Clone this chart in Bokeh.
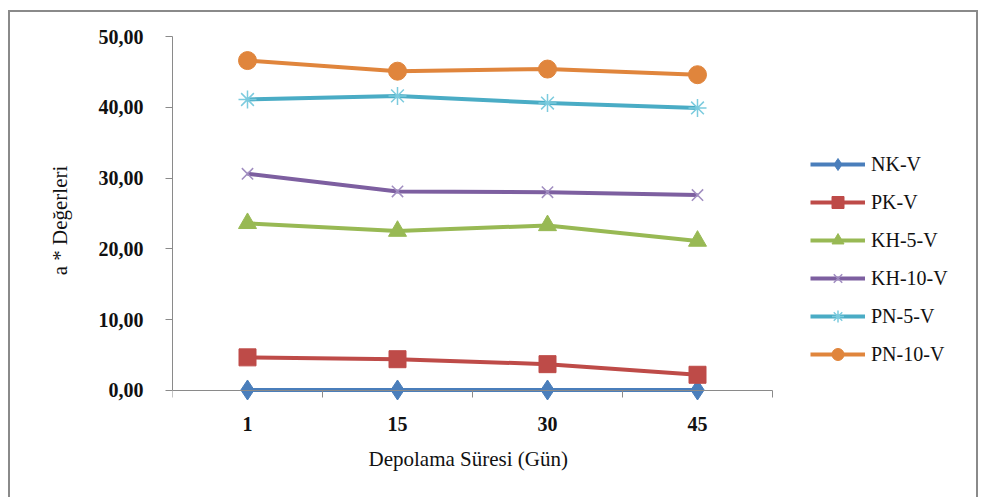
import numpy as np
from bokeh.plotting import figure
from bokeh.models import (Range1d, FixedTicker, Legend, LegendItem, ColumnDataSource, Title, LinearAxis)
from bokeh.embed import file_html
from bokeh.resources import INLINE

days = ["1", "15", "30", "45"]
series_names = ["NK-V", "PK-V", "KH-5-V", "KH-10-V", "PN-5-V", "PN-10-V"]
nk_v = [0.05, 0.05, 0.05, 0.05]
pk_v = [4.66, 4.40, 3.70, 2.20]
kh5_v = [23.6, 22.5, 23.3, 21.1]
kh10_v = [30.6, 28.1, 28.0, 27.6]
pn5_v = [41.1, 41.6, 40.6, 39.9]
pn10_v = [46.6, 45.1, 45.4, 44.6]
y_ticks = [0, 10, 20, 30, 40, 50]
y_tick_labels = ["0,00", "10,00", "20,00", "30,00", "40,00", "50,00"]

values = [nk_v, pk_v, kh5_v, kh10_v, pn5_v, pn10_v]
line_colors = ["#4A7EBB", "#BE4B48", "#98B954", "#7D5FA0", "#4AACC5", "#E0853C"]
marker_colors = ["#4A7EBB", "#BE4B48", "#98B954", "#A08DC0", "#7CCBDE", "#E0853C"]
markers = ["diamond", "square", "triangle", "x", "asterisk", "circle"]
sizes = [20, 17, 18, 16, 18, 18]

FONT = "Liberation Serif"
n = len(days)
# frame spans 800px; categories occupy 600px of it (150 px per category)
x_end = n * 800 / 600
y_pad = 2.0  # room below zero so markers at 0 are not clipped

p = figure(width=970, height=495, output_backend="svg", toolbar_location=None,
           x_range=Range1d(0, x_end), y_range=Range1d(-y_pad, 50),
           min_border_left=162, min_border_right=8, min_border_top=24, min_border_bottom=103,
           margin=(10, 4, 0, 8))
p.styles = {"border": "2px solid #8a8a8a", "box-sizing": "border-box"}
p.outline_line_color = None
p.xgrid.visible = False
p.ygrid.visible = False

xs = np.arange(n) + 0.5

items = []
for name, vals, lc, mc, mk, sz in zip(series_names, values, line_colors, marker_colors, markers, sizes):
    src = ColumnDataSource(dict(x=xs, y=vals))
    r1 = p.line("x", "y", source=src, line_color=lc, line_width=4)
    if mk in ("x", "asterisk"):
        r2 = p.scatter("x", "y", source=src, marker=mk, size=sz, line_color=mc, line_width=1.5)
    else:
        r2 = p.scatter("x", "y", source=src, marker=mk, size=sz, fill_color=mc, line_color=mc)
    items.append(LegendItem(label=name, renderers=[r1, r2]))

# x axis line and boundary ticks drawn at y = 0
p.xaxis.fixed_location = 0
p.xaxis.bounds = (0, n)
p.xaxis.ticker = FixedTicker(ticks=list(xs), minor_ticks=list(range(n + 1)))
p.xaxis.major_label_text_color = None
p.xaxis.major_tick_out = 0
p.xaxis.major_tick_in = 0
p.xaxis.minor_tick_out = 7
p.xaxis.minor_tick_in = 0
p.xaxis.minor_tick_line_color = "#8a8a8a"
p.xaxis.axis_line_color = "#8a8a8a"

# x tick labels in the panel below the frame
lab_axis = LinearAxis(ticker=FixedTicker(ticks=list(xs)),
                      major_label_overrides={float(x): d for x, d in zip(xs, days)},
                      axis_line_color=None, major_tick_line_color=None,
                      minor_tick_line_color=None, major_tick_out=0, major_tick_in=0,
                      major_label_standoff=12, major_label_text_font=FONT,
                      major_label_text_font_style="bold", major_label_text_font_size="20px",
                      major_label_text_color="#111111")
p.add_layout(lab_axis, "below")

# x axis title, centred under the category area
xtitle = Title(text="Depolama Süresi (Gün)", align="left", offset=196, standoff=22,
               text_font=FONT, text_font_style="normal", text_font_size="21px",
               text_color="#111111")
p.add_layout(xtitle, "below")

p.yaxis.bounds = (0, 50)
p.yaxis.ticker = FixedTicker(ticks=y_ticks)
p.yaxis.major_label_overrides = {t: l for t, l in zip(y_ticks, y_tick_labels)}
p.yaxis.minor_tick_line_color = None
p.yaxis.major_tick_out = 7
p.yaxis.major_tick_in = 0
p.yaxis.major_tick_line_color = "#8a8a8a"
p.yaxis.axis_line_color = "#8a8a8a"
p.yaxis.major_label_standoff = 22
p.yaxis.major_label_text_font = FONT
p.yaxis.major_label_text_font_style = "bold"
p.yaxis.major_label_text_font_size = "20px"
p.yaxis.major_label_text_color = "#111111"
p.yaxis.axis_label = "a * Değerleri"
p.yaxis.axis_label_text_font = FONT
p.yaxis.axis_label_text_font_style = "normal"
p.yaxis.axis_label_text_font_size = "21px"
p.yaxis.axis_label_text_color = "#111111"
p.yaxis.axis_label_standoff = 24

legend = Legend(items=items, location=(638, 35))
legend.border_line_color = None
legend.background_fill_alpha = 0
legend.label_text_font = FONT
legend.label_text_font_size = "20px"
legend.label_text_color = "#111111"
legend.glyph_width = 55
legend.glyph_height = 30
legend.spacing = 8
legend.label_standoff = 6
legend.padding = 0
legend.margin = 0
p.add_layout(legend, "center")

open("out.html", "w").write(file_html(p, INLINE))
